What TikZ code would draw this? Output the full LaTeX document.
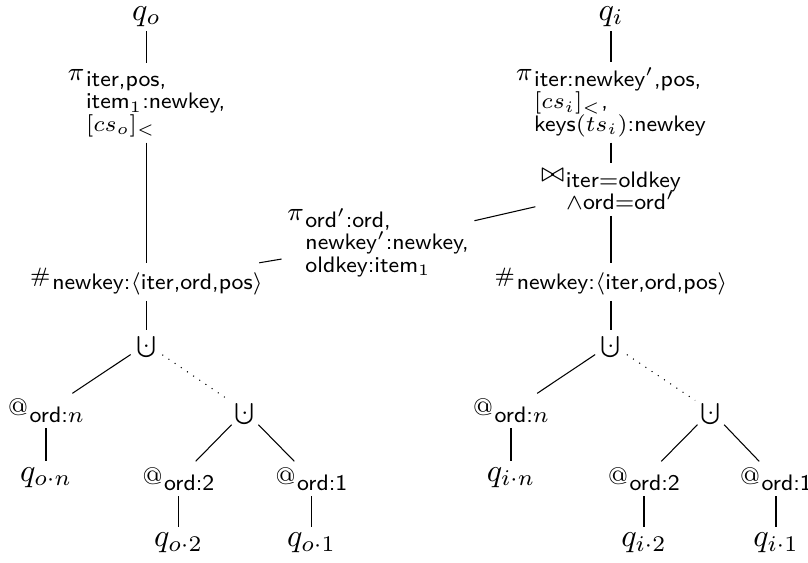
\documentclass[tikz,border=0pt]{standalone}
\usepackage{fix-cm}
\usepackage{amsmath}
\newcommand\opsym[2][8]{{\fontsize{#1}{#1}\selectfont$#2$}}
\newcommand\sbx[1]{\hspace{0.5pt}\raisebox{-2pt}{\fontsize{7}{7}\selectfont\sffamily\vtop{\baselineskip=7pt\lineskiplimit=-5pt #1}}}
\newcommand\cupdotsym{{\fontsize{6.6}{7}\selectfont\ooalign{$\bigcup$\cr\hidewidth$\cdot$\hidewidth\cr}}}
\newcommand\atsym{{\fontsize{7.5}{8}\selectfont @}}
\tikzset{
  op/.style={inner sep=1.8pt, outer sep=0pt},
  top/.style={inner sep=1.5pt, outer sep=0pt},
  edge/.style={line width=0.33pt},
}
\begin{document}
\begin{tikzpicture}[x=0.3125pt,y=-0.3125pt]
\useasboundingbox (0,0) rectangle (808,563);
% left tree
\node[top,anchor=base] (qo) at (146.5,20) {$q_o$};
\node[op,anchor=base] (pio) at (146.5,80) {\opsym{\pi}\sbx{\hbox{iter,pos,}\hbox{item$_1$:newkey,}\hbox{$[cs_o]_<$}}};
\node[op,anchor=base] (hl) at (146.5,283) {\opsym[6.5]{\#}\sbx{\hbox{newkey:$\langle$iter,ord,pos$\rangle$}}};
\node[op] (ul) at (146.5,344) {\cupdotsym};
\node[op,anchor=base] (anl) at (46,416) {\atsym\sbx{\hbox{ord:$n$}}};
\node[op,anchor=base] (qnl) at (46,481) {$q_{o\cdot n}$};
\node[op] (uil) at (245,411) {\cupdotsym};
\node[op,anchor=base] (a2l) at (178.5,484) {\atsym\sbx{\hbox{ord:2}}};
\node[op,anchor=base] (a1l) at (311.5,484) {\atsym\sbx{\hbox{ord:1}}};
\node[op,anchor=base] (q2l) at (178.5,547) {$q_{o\cdot 2}$};
\node[op,anchor=base] (q1l) at (311.5,547) {$q_{o\cdot 1}$};
% middle
\node[op,anchor=base] (mid) at (378,221) {\opsym{\pi}\sbx{\hbox{ord$'$:ord,}\hbox{newkey$'$:newkey,}\hbox{oldkey:item$_1$}}};
% right tree
\node[top,anchor=base] (qi) at (611,20) {$q_i$};
\node[op,anchor=base] (pii) at (611,80) {\opsym{\pi}\sbx{\hbox{iter:newkey$'$,pos,}\hbox{$[cs_i]_<$,}\hbox{keys$(ts_i)$:newkey}}};
\node[op,anchor=base] (jn) at (611,181) {{\fontsize{8.2}{9}\selectfont$\bowtie$}\sbx{\hbox{iter$=$oldkey}\hbox{$\wedge$ord$=$ord$'$}}};
\node[op,anchor=base] (hr) at (611,283) {\opsym[6.5]{\#}\sbx{\hbox{newkey:$\langle$iter,ord,pos$\rangle$}}};
\node[op] (ur) at (611,344) {\cupdotsym};
\node[op,anchor=base] (anr) at (511,416) {\atsym\sbx{\hbox{ord:$n$}}};
\node[op,anchor=base] (qnr) at (511,481) {$q_{i\cdot n}$};
\node[op] (uir) at (711,411) {\cupdotsym};
\node[op,anchor=base] (a2r) at (644,484) {\atsym\sbx{\hbox{ord:2}}};
\node[op,anchor=base] (a1r) at (776,484) {\atsym\sbx{\hbox{ord:1}}};
\node[op,anchor=base] (q2r) at (644,547) {$q_{i\cdot 2}$};
\node[op,anchor=base] (q1r) at (776,547) {$q_{i\cdot 1}$};
% edges left
\draw[edge] (qo) -- (pio);
\draw[edge] (pio) -- (hl);
\draw[edge] (hl) -- (ul);
\draw[edge] (ul) -- (anl);
\draw[edge] (anl) -- (qnl);
\draw[edge,dotted] (ul) -- (uil);
\draw[edge] (uil) -- (a2l);
\draw[edge] (uil) -- (a1l);
\draw[edge] (a2l) -- (q2l);
\draw[edge] (a1l) -- (q1l);
% edges middle
\draw[edge] (mid) -- (hl);
\draw[edge] (mid) -- (jn);
% edges right
\draw[edge] (qi) -- (pii);
\draw[edge] (pii) -- (jn);
\draw[edge] (jn) -- (hr);
\draw[edge] (hr) -- (ur);
\draw[edge] (ur) -- (anr);
\draw[edge] (anr) -- (qnr);
\draw[edge,dotted] (ur) -- (uir);
\draw[edge] (uir) -- (a2r);
\draw[edge] (uir) -- (a1r);
\draw[edge] (a2r) -- (q2r);
\draw[edge] (a1r) -- (q1r);
\end{tikzpicture}
\end{document}
